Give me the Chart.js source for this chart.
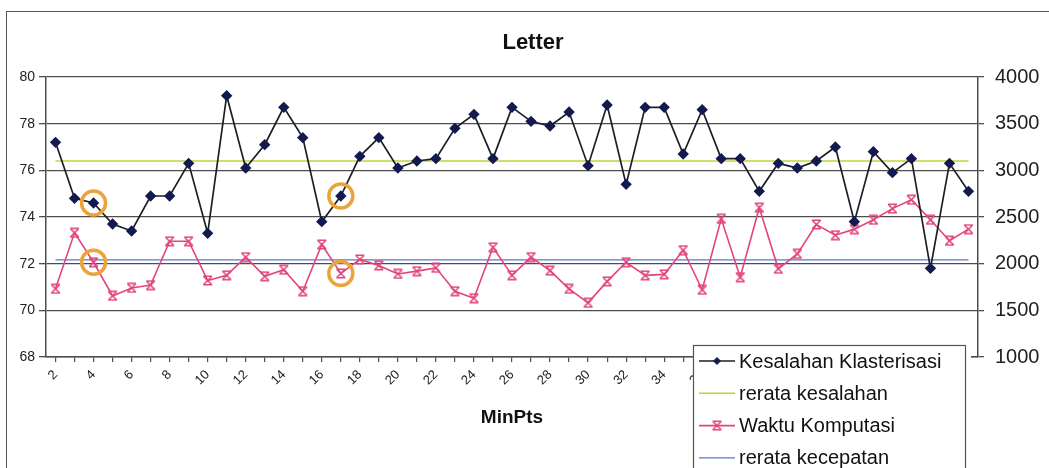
<!DOCTYPE html>
<html>
<head>
<meta charset="utf-8">
<script src="https://cdn.jsdelivr.net/npm/chart.js@4.4.1/dist/chart.umd.min.js"></script>
<style>
  html,body{margin:0;padding:0;background:#fff;overflow:hidden}
  #wrap{position:relative;width:1049px;height:468px}
  #frame{position:absolute;left:6px;top:11px;width:1100px;height:500px;border:1.5px solid #555;box-sizing:border-box}
  canvas{position:absolute;left:0;top:0}
</style>
</head>
<body>
<div id="wrap">
  <div id="frame"></div>
  <canvas id="chart" width="1049" height="468"></canvas>
</div>
<script>
// MinPts 2..50
const minPts = [2,3,4,5,6,7,8,9,10,11,12,13,14,15,16,17,18,19,20,21,22,23,24,25,26,
  27,28,29,30,31,32,33,34,35,36,37,38,39,40,41,42,43,44,45,46,47,48,49,50]

// kesalahan klasterisasi (sumbu kiri)
const kesalahan = [77.2,74.8,74.6,73.7,73.4,74.9,74.9,76.3,73.3,79.2,76.1,77.1,78.7,77.4,73.8,
  74.9,76.6,77.4,76.1,76.4,76.5,77.8,78.4,76.5,78.7,78.1,77.9,78.5,76.2,78.8,75.4,78.7,78.7,
  76.7,78.6,76.5,76.5,75.1,76.3,76.1,76.4,77.0,73.8,76.8,75.9,76.5,71.8,76.3,75.1]
const rerataKesalahan = 76.4

// waktu komputasi (sumbu kanan)
const waktu = [1730,2330,2015,1655,1740,1770,2240,2240,1820,1875,2070,1865,1935,1705,2205,
  1895,2045,1980,1890,1920,1955,1705,1630,2175,1875,2070,1925,1730,1580,1810,2015,1875,1885,
  2145,1720,2480,1855,2600,1945,2105,2420,2305,2370,2470,2590,2685,2470,2245,2370]
const rerataKecepatan = 2040

const kiriTicks = [68,70,72,74,76,78,80]
const kananTicks = [1000,1500,2000,2500,3000,3500,4000]

// titik yang dilingkari
const sorotan = [4,17]

const FONT = "'Liberation Sans', Arial, sans-serif"
const GRID = '#4d4d4d'

// penanda bintang untuk waktu komputasi
function bintang(color){
  const c=document.createElement('canvas')
  c.width=11; c.height=11
  const g=c.getContext('2d')
  g.strokeStyle=color; g.lineWidth=1.6
  g.beginPath()
  g.moveTo(1.5,1.5); g.lineTo(9.5,9.5)
  g.moveTo(9.5,1.5); g.lineTo(1.5,9.5)
  g.moveTo(1,1.2); g.lineTo(10,1.2)
  g.moveTo(1,9.8); g.lineTo(10,9.8)
  g.stroke()
  return c
}
const pinkMark = bintang('#e2457c')

const judul = {
  id:'judul',
  afterDraw(chart){
    const ctx=chart.ctx
    ctx.save()
    ctx.font='bold 22px '+FONT
    ctx.fillStyle='#111'
    ctx.textAlign='center'
    ctx.textBaseline='middle'
    ctx.fillText('Letter',533,43)
    ctx.restore()
  }
}

const lingkaran = {
  id:'lingkaran',
  afterDatasetsDraw(chart){
    const ctx=chart.ctx, x=chart.scales.x, y=chart.scales.y, y1=chart.scales.y1
    ctx.save()
    ctx.strokeStyle='#eba43a'
    ctx.lineWidth=3.5
    sorotan.forEach(m=>{
      const i=minPts.indexOf(m)
      const px=x.getPixelForValue(i)
      ;[y.getPixelForValue(kesalahan[i]), y1.getPixelForValue(waktu[i])].forEach(py=>{
        ctx.beginPath(); ctx.arc(px,py,12,0,Math.PI*2); ctx.stroke()
      })
    })
    ctx.restore()
  }
}

const legendBox = {
  id:'legendBox',
  afterDraw(chart){
    const ctx=chart.ctx
    ctx.save()
    ctx.fillStyle='#fff'
    ctx.fillRect(693,345,278,130)
    ctx.strokeStyle='#555'; ctx.lineWidth=1.2
    ctx.strokeRect(693.5,345.5,272,130)
    ctx.font='20px '+FONT
    ctx.textBaseline='middle'
    chart.data.datasets.forEach((ds,i)=>{
      const y=361+i*32.3
      ctx.strokeStyle=ds.borderColor
      ctx.lineWidth=ds.borderWidth
      ctx.beginPath(); ctx.moveTo(699,y); ctx.lineTo(735,y); ctx.stroke()
      if(ds.pointRadius>0){
        ctx.fillStyle=ds.pointBackgroundColor
        ctx.strokeStyle=ds.pointBorderColor
        ctx.lineWidth=1
        Chart.helpers.drawPoint(ctx,{pointStyle:ds.pointStyle,radius:ds.pointRadius-1,borderWidth:1,rotation:0},717,y)
      }
      ctx.fillStyle='#111'
      ctx.fillText(ds.label,739,y+1)
    })
    ctx.restore()
  }
}

const ctx=document.getElementById('chart')
new Chart(ctx,{
  type:'line',
  data:{
    labels:minPts,
    datasets:[{
      label:'Kesalahan Klasterisasi',
      data:kesalahan,
      yAxisID:'y',
      borderColor:'#1e1e28',
      borderWidth:1.7,
      pointStyle:'rectRot',
      pointRadius:4.5,
      pointBackgroundColor:'#121a50',
      pointBorderColor:'#121a50',
      tension:0
    },{
      label:'rerata kesalahan',
      data:minPts.map(()=>rerataKesalahan),
      yAxisID:'y',
      borderColor:'#bcd43c',
      borderWidth:1.6,
      pointRadius:0
    },{
      label:'Waktu Komputasi',
      data:waktu,
      yAxisID:'y1',
      borderColor:'#e2457c',
      borderWidth:1.6,
      pointStyle:pinkMark,
      pointRadius:5,
      pointBackgroundColor:'#e2457c',
      pointBorderColor:'#e2457c',
      tension:0
    },{
      label:'rerata kecepatan',
      data:minPts.map(()=>rerataKecepatan),
      yAxisID:'y1',
      borderColor:'#5577cc',
      borderWidth:1.2,
      pointRadius:0
    }]
  },
  options:{
    responsive:false,
    animation:false,
    devicePixelRatio:1,
    layout:{padding:{top:77}},
    plugins:{
      legend:{display:false},
      tooltip:{enabled:false},
      title:{display:false}
    },
    scales:{
      x:{
        type:'category',
        offset:true,
        afterFit(s){ s.height=111 },
        grid:{drawOnChartArea:false,color:GRID,tickLength:5,lineWidth:1.2},
        border:{display:true,color:GRID,width:1.5},
        ticks:{
          autoSkip:false,minRotation:45,maxRotation:45,padding:5,color:'#222',
          font:{family:FONT,size:13},
          callback(v,i){ return i%2===0 ? this.getLabelForValue(v) : '' }
        },
        title:{display:true,text:'MinPts',color:'#111',
          font:{family:FONT,size:19,weight:'bold'},padding:{top:0,bottom:39}}
      },
      y:{
        position:'left',
        min:68,max:80,
        afterFit(s){ s.width=46 },
        afterBuildTicks(s){ s.ticks=kiriTicks.map(v=>({value:v})) },
        grid:{color:GRID,lineWidth:1.3,tickLength:7},
        border:{display:true,color:GRID,width:1.5},
        ticks:{padding:4,color:'#222',font:{family:FONT,size:14}}
      },
      y1:{
        position:'right',
        min:1000,max:4000,
        afterFit(s){ s.width=71 },
        afterBuildTicks(s){ s.ticks=kananTicks.map(v=>({value:v})) },
        grid:{drawOnChartArea:false,color:GRID,lineWidth:1.3,tickLength:6},
        border:{display:true,color:GRID,width:1.5},
        ticks:{padding:11,color:'#222',font:{family:FONT,size:20},
          callback(v){ return String(v) }}
      }
    }
  },
  plugins:[lingkaran,legendBox,judul]
})
</script>
</body>
</html>
